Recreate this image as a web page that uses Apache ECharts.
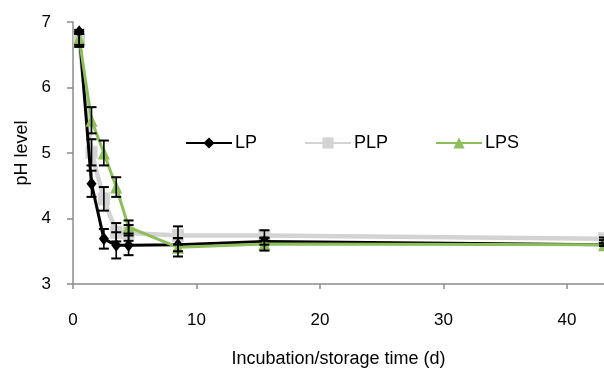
<!DOCTYPE html>
<html>
<head>
<meta charset="utf-8">
<script src="https://cdn.jsdelivr.net/npm/echarts@6/dist/echarts.min.js"></script>
<style>
  html, body { margin: 0; padding: 0; background: #fff; }
  #chart { width: 604px; height: 369px; }
</style>
</head>
<body>
<div id="chart"></div>
<script>
// sampling days
const days = [0.5, 1.5, 2.5, 3.5, 4.5, 8.5, 15.5, 43];

// pH values
const lp  = [6.85, 4.53, 3.69, 3.59, 3.59, 3.6, 3.65, 3.6];
const plp = [6.72, 5.01, 4.3, 3.79, 3.78, 3.74, 3.74, 3.69];
const lps = [6.75, 5.5, 5.0, 4.48, 3.87, 3.56, 3.61, 3.6];

// error bar half-widths
const lpErr  = [0.03, 0.2, 0.15, 0.2, 0.15, 0.1, 0.05, 0.02];
const plpErr = [0.1, 0.2, 0.18, 0.14, 0.12, 0.14, 0.08, 0.02];
const lpsErr = [0.1, 0.2, 0.19, 0.15, 0.1, 0.14, 0.1, 0.02];

const xTicks = [0, 10, 20, 30, 40];
const yTicks = [3, 4, 5, 6, 7];

const pts = (ys) => days.map((d, i) => [d, ys[i]]);
const errs = (ys, es) => days.map((d, i) => [d, ys[i] - es[i], ys[i] + es[i]]);

function errorBar(params, api) {
  const lo = api.coord([api.value(0), api.value(1)]);
  const hi = api.coord([api.value(0), api.value(2)]);
  const w = 5;
  const style = { stroke: '#000', lineWidth: 1.6 };
  const cap = { stroke: '#000', lineWidth: 2 };
  return {
    type: 'group',
    children: [
      { type: 'line', shape: { x1: lo[0], y1: lo[1], x2: hi[0], y2: hi[1] }, style },
      { type: 'line', shape: { x1: lo[0] - w, y1: lo[1], x2: lo[0] + w, y2: lo[1] }, style: cap },
      { type: 'line', shape: { x1: hi[0] - w, y1: hi[1], x2: hi[0] + w, y2: hi[1] }, style: cap }
    ]
  };
}

const chart = echarts.init(document.getElementById('chart'));
const font = 'Liberation Sans, Arial, sans-serif';
const axisCol = '#8c8c8c';

chart.setOption({
  animation: false,
  textStyle: { fontFamily: font },
  // fixed plot box, v6 would otherwise squeeze it to fit the names
  grid: { left: 73, right: 0, top: 22, bottom: 85, outerBoundsMode: 'none', containLabel: false },
  legend: {
    left: 185, top: 134, padding: 0,
    itemWidth: 46, itemHeight: 14, itemGap: 47,
    textStyle: { fontSize: 18, color: '#000', fontFamily: font, padding: [0, 0, 0, -2] },
    data: ['LP', 'PLP', 'LPS']
  },
  xAxis: {
    type: 'value', min: 0, max: 43, interval: 10,
    name: 'Incubation/storage time (d)', nameLocation: 'middle', nameGap: 66,
    nameTextStyle: { fontSize: 18, color: '#000' },
    axisLine: { show: true, lineStyle: { color: axisCol, width: 1.5 } },
    axisTick: { show: true, length: 5, lineStyle: { color: axisCol, width: 1.5 } },
    axisLabel: {
      fontSize: 17, color: '#000', margin: 28, showMaxLabel: false,
      formatter: (v) => xTicks.includes(v) ? String(v) : ''
    },
    splitLine: { show: false }
  },
  yAxis: {
    type: 'value', min: 3, max: 7, interval: 1,
    name: 'pH level', nameLocation: 'middle', nameGap: 36, nameRotate: 90,
    nameTextStyle: { fontSize: 18, color: '#000' },
    axisLine: { show: true, lineStyle: { color: axisCol, width: 1.5 } },
    axisTick: { show: true, length: 6, lineStyle: { color: axisCol, width: 1.5 } },
    axisLabel: {
      fontSize: 17, color: '#000', margin: 22,
      formatter: (v) => yTicks.includes(v) ? String(v) : ''
    },
    splitLine: { show: false }
  },
  series: [
    {
      name: 'PLP', type: 'line', data: pts(plp),
      symbol: 'rect', symbolSize: [12, 13],
      lineStyle: { color: '#d3d3d3', width: 4.5 },
      itemStyle: { color: '#d3d3d3' }, z: 2
    },
    {
      name: 'LP', type: 'line', data: pts(lp),
      symbol: 'diamond', symbolSize: [10, 13],
      lineStyle: { color: '#000', width: 3 },
      itemStyle: { color: '#000' }, z: 3
    },
    {
      name: 'LPS', type: 'line', data: pts(lps),
      symbol: 'triangle', symbolSize: [12, 13],
      lineStyle: { color: '#8dbe5b', width: 3 },
      itemStyle: { color: '#8dbe5b' }, z: 4
    },
    { type: 'custom', renderItem: errorBar, data: errs(plp, plpErr), z: 5, encode: { x: 0, y: [1, 2] } },
    { type: 'custom', renderItem: errorBar, data: errs(lp, lpErr), z: 5, encode: { x: 0, y: [1, 2] } },
    { type: 'custom', renderItem: errorBar, data: errs(lps, lpsErr), z: 5, encode: { x: 0, y: [1, 2] } }
  ]
});
</script>
</body>
</html>
